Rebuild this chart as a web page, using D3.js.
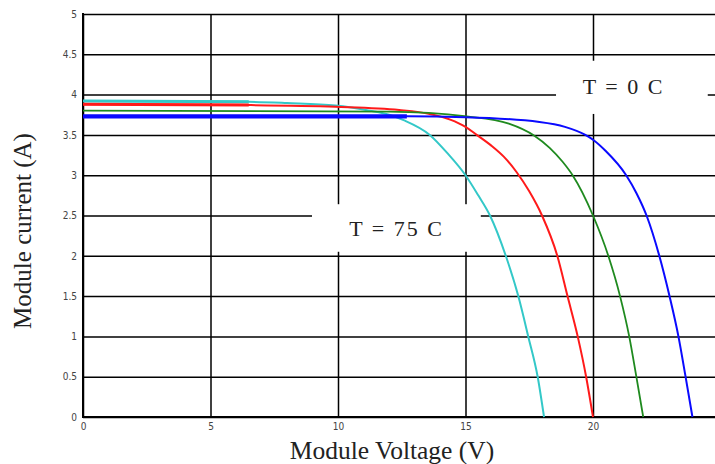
<!DOCTYPE html>
<html>
<head>
<meta charset="utf-8">
<script src="https://cdn.jsdelivr.net/npm/d3@7"></script>
<style>
  html, body { margin: 0; padding: 0; background: #fff; }
  svg { display: block; }
</style>
</head>
<body>
<svg id="chart" width="715" height="464"></svg>
<script>
// I–V characteristics of a PV module at four cell temperatures
const xTickValues = [0, 5, 10, 15, 20];
const xTickLabels = ["0", "5", "10", "15", "20"];
const yTickValues = [0, 0.5, 1, 1.5, 2, 2.5, 3, 3.5, 4, 4.5, 5];
const yTickLabels = ["0", "0.5", "1", "1.5", "2", "2.5", "3", "3.5", "4", "4.5", "5"];

const seriesNames = ["T = 75 C", "T = 50 C", "T = 25 C", "T = 0 C"];

// Module voltage (V) / module current (A) samples per temperature
const voltage75 = [0, 6.5, 8.0, 9.9, 11.25, 12.0, 12.6, 13.6, 14.3, 15.0, 15.5, 15.96, 16.58, 17.07, 17.46, 17.83, 18.08];
const current75 = [3.92, 3.91, 3.895, 3.865, 3.80, 3.75, 3.68, 3.50, 3.27, 3.00, 2.75, 2.50, 2.00, 1.50, 1.00, 0.50, 0];

const voltage50 = [0, 6.5, 9.9, 12.4, 13.6, 14.4, 15.0, 15.44, 16.0, 16.5, 17.0, 17.5, 18.0, 18.6, 19.0, 19.4, 19.73, 20.0];
const current50 = [3.88, 3.87, 3.85, 3.81, 3.76, 3.69, 3.60, 3.50, 3.37, 3.23, 3.04, 2.80, 2.50, 2.00, 1.50, 1.00, 0.50, 0];

const voltage25 = [0, 12.0, 15.05, 16.7, 17.7, 18.3, 18.8, 19.2, 20.0, 20.6, 21.06, 21.42, 21.7, 21.97];
const current25 = [3.80, 3.79, 3.73, 3.64, 3.49, 3.34, 3.17, 3.00, 2.50, 2.00, 1.50, 1.00, 0.50, 0];

const voltage0 = [0, 12.7, 15.0, 17.9, 18.9, 19.7, 20.0, 20.5, 21.3, 21.7, 22.1, 22.6, 23.0, 23.35, 23.63, 23.9];
const current0 = [3.73, 3.73, 3.72, 3.66, 3.60, 3.50, 3.44, 3.30, 3.00, 2.78, 2.50, 2.00, 1.50, 1.00, 0.50, 0];

// Short-circuit plateau that is traced with a heavier stroke
const plateauEnd = [6.5, 6.5, 0, 12.7];

const seriesColors = ["#33c8c8", "#ff1a1a", "#1f8a1f", "#0a0aff"];
const seriesWidths = [2, 2, 1.8, 2];
const plateauWidths = [3, 3, 1.8, 4.2];

const voltages = [voltage75, voltage50, voltage25, voltage0];
const currents = [current75, current50, current25, current0];

const svg = d3.select("#chart");
const W = 715, H = 464;
const plotLeft = 83, plotRight = 720.5, plotTop = 14, plotBottom = 417;

const x = d3.scaleLinear().domain([0, 25]).range([plotLeft, plotRight]);
const y = d3.scaleLinear().domain([0, 5]).range([plotBottom, plotTop]);

const tickFont = "'Liberation Sans Narrow', 'DejaVu Sans Condensed', 'Arial Narrow', sans-serif";
const serif = "'Liberation Serif', 'Times New Roman', serif";

// Grid lines with tick labels
const gx = svg.append("g")
  .attr("transform", `translate(0,${plotBottom})`)
  .call(d3.axisBottom(x)
    .tickValues(xTickValues)
    .tickFormat((d, i) => xTickLabels[i])
    .tickSize(-(plotBottom - plotTop))
    .tickPadding(6));
gx.select(".domain").remove();
gx.selectAll(".tick line").attr("stroke", "#000").attr("stroke-width", 1.5);
gx.selectAll(".tick text")
  .attr("font-family", tickFont).attr("font-size", 10).attr("fill", "#444");

const gy = svg.append("g")
  .attr("transform", `translate(${plotLeft},0)`)
  .call(d3.axisLeft(y)
    .tickValues(yTickValues)
    .tickFormat((d, i) => yTickLabels[i])
    .tickSize(-(plotRight - plotLeft))
    .tickPadding(6));
gy.select(".domain").remove();
gy.selectAll(".tick line").attr("stroke", "#000").attr("stroke-width", 1.5);
gy.selectAll(".tick text")
  .attr("font-family", tickFont).attr("font-size", 10).attr("fill", "#444");

// Axis lines
svg.append("line").attr("x1", plotLeft).attr("x2", plotLeft).attr("y1", plotTop - 1).attr("y2", plotBottom + 1)
  .attr("stroke", "#000").attr("stroke-width", 2);
svg.append("line").attr("x1", plotLeft).attr("x2", W).attr("y1", plotBottom).attr("y2", plotBottom)
  .attr("stroke", "#000").attr("stroke-width", 2);

// Annotation boxes (white panels behind the temperature labels)
const notes = [
  { text: seriesNames[3], v0: 18.55, v1: 24.5, i0: 3.76, i1: 4.42, cv: 21.2, bi: 4.01 },
  { text: seriesNames[0], v0: 8.98, v1: 15.6, i0: 2.05, i1: 2.64, cv: 12.3, bi: 2.24 }
];
notes.forEach(n => {
  svg.append("rect")
    .attr("x", x(n.v0)).attr("y", y(n.i1))
    .attr("width", x(n.v1) - x(n.v0)).attr("height", y(n.i0) - y(n.i1))
    .attr("fill", "#fff");
  svg.append("text")
    .attr("x", x(n.cv)).attr("y", y(n.bi))
    .attr("text-anchor", "middle")
    .attr("font-family", serif).attr("font-size", 22)
    .attr("letter-spacing", 2)
    .attr("fill", "#222")
    .text(n.text);
});

// I–V curves
const line = d3.line()
  .x(d => x(d[0]))
  .y(d => y(d[1]))
  .curve(d3.curveMonotoneX);

voltages.forEach((vs, k) => {
  const pts = vs.map((v, j) => [v, currents[k][j]]);
  svg.append("path")
    .datum(pts)
    .attr("d", line)
    .attr("fill", "none")
    .attr("stroke", seriesColors[k])
    .attr("stroke-width", seriesWidths[k])
    .attr("stroke-linejoin", "round");
  if (plateauEnd[k] > 0) {
    const flat = pts.filter(p => p[0] <= plateauEnd[k]);
    svg.append("path")
      .datum(flat)
      .attr("d", line)
      .attr("fill", "none")
      .attr("stroke", seriesColors[k])
      .attr("stroke-width", plateauWidths[k]);
  }
});

// Axis titles
svg.append("text")
  .attr("x", 392).attr("y", 459)
  .attr("text-anchor", "middle")
  .attr("font-family", serif).attr("font-size", 25.5).attr("fill", "#222")
  .text("Module Voltage (V)");

svg.append("text")
  .attr("transform", "translate(31,231) rotate(-90)")
  .attr("text-anchor", "middle")
  .attr("font-family", serif).attr("font-size", 25).attr("fill", "#222")
  .text("Module current (A)");
</script>
</body>
</html>
